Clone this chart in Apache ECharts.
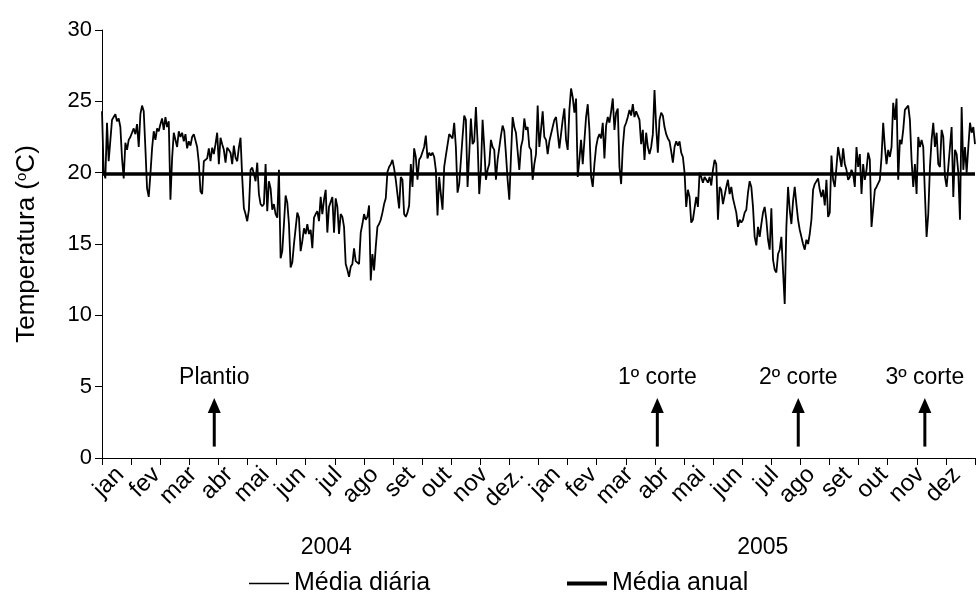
<!DOCTYPE html>
<html><head><meta charset="utf-8">
<script src="https://cdn.jsdelivr.net/npm/echarts@6/dist/echarts.min.js"></script>
<style>html,body{margin:0;padding:0;background:#fff}#c{width:979px;height:600px}</style>
</head><body><div id="c"></div>
<script>
// Month labels (bottom axis), year labels
const monthLabels = ['jan','fev','mar','abr','mai','jun','jul','ago','set','out','nov','dez.',
                     'jan','fev','mar','abr','mai','jun','jul','ago','set','out','nov','dez'];
const yearLabels = ['2004','2005'];
const yTicks = [0, 30, 5]; // min, max, step

// Daily mean temperature (ºC), sampled evenly along Jan 2004 – Dec 2005
const tempJanApr2004 = [24.3,20.1,19.6,23.5,20.8,20.8,23.7,23.9,24.1,23.6,23.8,23.2,21.0,19.6,22.1,21.6,22.3,22.5,22.4,23.1,
  22.7,23.4,21.8,24.1,24.7,24.3,21.7,18.9,18.3,19.9,21.7,22.9,22.3,23.1,22.9,23.4,23.8,23.0,23.9,23.2,
  23.6,18.1,21.0,22.8,22.7,21.8,22.9,22.5,22.8,22.2,22.7,21.7,22.2,21.9,22.5,22.7,22.8,21.8,20.7,18.7,
  18.5,20.8,20.8,21.0,21.7];
const tempAprJul2004 = [20.8,21.75,21.3,22.0,22.8,20.6,22.45,22.0,21.6,20.7,21.75,21.6,21.4,20.6,21.9,21.05,20.8,21.75,22.45,19.65,
  17.5,17.1,16.6,17.4,20.2,20.35,19.9,19.4,20.7,18.5,17.8,17.65,17.8,20.6,17.3,19.4,18.9,17.4,17.8,17.1,
  16.85,20.2,14.0,14.5,16.4,18.4,17.9,16.4,13.35,13.7,15.0,16.1,17.2,16.85,14.5,15.2,16.1,15.7,16.4,15.7,
  16.0,14.7,16.85,17.1,17.3,16.6];
const tempJulOct2004 = [18.3,17.1,18.1,18.8,15.8,17.6,17.5,18.3,15.8,18.2,17.6,15.7,17.1,16.9,16.2,13.6,13.2,12.7,13.4,13.6,
  14.7,13.8,13.8,13.6,15.8,16.4,17.1,16.7,16.9,17.7,12.45,14.3,13.15,14.8,16.2,16.4,16.7,17.2,17.8,18.2,
  20.05,20.4,20.6,20.9,20.3,19.5,18.5,17.5,19.7,19.5,17.1,16.9,17.2,17.7,20.6,19.0,21.7,21.1,19.5,20.9,
  21.1,21.2,21.8,22.6,21.0,21.4];
const tempOctDec2004 = [21.2,21.4,21.1,20.2,17.0,19.7,18.5,17.4,20.4,21.2,21.3,22.7,22.8,22.4,23.5,21.8,18.6,19.2,19.3,22.5,
  24.0,23.7,19.0,21.3,23.8,22.0,22.2,24.6,22.2,18.5,20.2,23.7,21.8,19.5,20.2,20.6,22.3,21.8,21.6,19.5,
  20.9,21.0,22.6,23.3,22.9,21.3,19.5,18.1,21.1,23.9,23.2,22.8,21.5,20.2,21.8,22.3,23.8,23.0,23.2,21.8,
  21.6,19.5,20.6,21.3,24.7,21.8];
const tempJanApr2005 = [23.0,24.3,22.5,22.3,21.3,22.2,22.3,23.2,23.7,23.9,24.0,21.7,21.6,23.7,24.5,22.3,21.6,24.4,25.9,25.3,
  24.2,25.2,19.7,20.9,22.3,20.6,20.6,23.9,24.8,23.0,19.7,19.0,20.6,21.8,22.4,22.7,22.4,23.5,21.0,23.3,
  23.9,23.5,24.3,25.2,23.0,24.2,24.5,20.4,19.2,21.8,23.2,23.5,23.9,24.4,24.0,24.8,23.9,24.3,24.2,23.7,
  22.0,23.0,20.9,22.8,21.8,21.3];
const tempAprJul2005 = [21.8,22.7,25.8,23.2,21.4,23.7,24.2,24.0,23.2,22.7,22.4,22.2,21.5,20.7,21.8,22.2,21.9,22.2,21.4,21.1,
  20.0,17.6,18.8,18.3,16.5,16.7,16.6,18.3,17.6,20.0,19.7,19.3,19.7,19.5,19.3,19.7,19.1,20.2,20.9,20.6,
  16.7,19.0,18.8,17.8,17.7,19.0,19.5,18.5,19.0,18.2,18.1,17.2,16.2,16.7,16.5,16.7,17.2,17.4,18.6,19.4,
  19.0,17.6,15.5,14.9,16.2,15.5];
const tempJulOct2005 = [16.4,17.2,17.6,16.7,15.3,14.6,17.5,13.9,13.2,13.0,14.3,14.6,15.5,15.4,10.8,16.2,19.0,17.4,16.4,18.0,
  19.0,17.8,16.7,16.0,15.5,15.0,14.6,15.3,15.0,15.7,16.7,18.8,19.2,19.3,19.6,18.8,18.3,18.8,17.7,19.5,
  16.9,17.2,21.2,19.5,19.0,20.4,21.8,21.9,20.4,21.7,20.6,20.2,19.5,19.7,20.2,19.9,19.0,21.8,20.4,21.3,
  18.5,20.6,19.5,20.2,21.4,20.9];
const tempOctDec2005 = [16.2,16.1,18.8,19.0,19.0,19.5,21.1,23.5,21.8,20.6,21.6,21.1,21.8,24.9,23.7,25.2,19.5,22.3,22.0,23.0,
  24.4,24.5,24.7,23.7,20.9,19.0,20.6,18.5,22.5,21.8,22.3,21.8,18.5,15.5,17.1,20.4,22.3,23.5,21.8,22.8,
  20.6,20.4,23.0,22.5,19.7,19.0,20.4,21.8,23.2,18.3,21.6,21.3,20.0,16.7,24.6,20.2,21.8,20.0,21.8,23.5,
  22.8,23.2,22.0];

const annualMean = 19.9;
const totalDays = 731;
// Events: day number counted from 1 Jan 2004
const eventNames = ['Plantio','1º corte','2º corte','3º corte'];
const eventDays = [94, 465, 583, 689];

const daily = [].concat(tempJanApr2004,tempAprJul2004,tempJulOct2004,tempOctDec2004,
                        tempJanApr2005,tempAprJul2005,tempJulOct2005,tempOctDec2005);

const TICKS = 30; // number of tick intervals on the time axis
const dailyPts = daily.map((v,i)=>[i*TICKS/(daily.length-1), v]);
const meanPts = [[0, annualMean],[TICKS, annualMean]];
const eventPts = eventDays.map((d,i)=>[d*TICKS/totalDays, eventNames[i]]);

const FONT = '"Liberation Sans", Arial, Helvetica, sans-serif';
const FS = 22;
const ARROW_FROM = 0.8, ARROW_TO = 4.2;

const chart = echarts.init(document.getElementById('c'), null, {renderer:'canvas'});
chart.setOption({
  animation:false,
  backgroundColor:'#fff',
  textStyle:{fontFamily:FONT, color:'#000'},
  grid:{left:102, right:4, top:30, bottom:142, containLabel:false},
  legend:[
    {data:['Média diária'], left:244, top:566, icon:'rect', itemWidth:40, itemHeight:1.5, itemGap:6,
     textStyle:{fontFamily:FONT, fontSize:25, color:'#000'}},
    {data:['Média anual'], left:562, top:566, icon:'rect', itemWidth:40, itemHeight:4, itemGap:6,
     textStyle:{fontFamily:FONT, fontSize:25, color:'#000'}}
  ],
  xAxis:[
    {type:'value', min:0, max:TICKS, interval:1, position:'bottom',
     axisLine:{show:true, onZero:false, lineStyle:{color:'#000', width:1}},
     axisTick:{show:true, inside:false, length:7, lineStyle:{color:'#000'}},
     axisLabel:{show:false}, splitLine:{show:false}},
    {type:'category', data:monthLabels, position:'bottom', boundaryGap:true,
     axisLine:{show:false}, axisTick:{show:false}, splitLine:{show:false},
     axisLabel:{interval:0, rotate:45, margin:13, fontSize:24, color:'#000', fontFamily:FONT}},
    {type:'category', data:yearLabels, position:'bottom', boundaryGap:true,
     axisLine:{show:false}, axisTick:{show:false}, splitLine:{show:false},
     axisLabel:{interval:0, margin:78, fontSize:23, color:'#000', fontFamily:FONT, padding:[0,0,0,12]}}
  ],
  yAxis:{type:'value', min:yTicks[0], max:yTicks[1], interval:yTicks[2],
    axisLine:{show:true, lineStyle:{color:'#000', width:1}},
    axisTick:{show:true, inside:false, length:7, lineStyle:{color:'#000'}},
    axisLabel:{fontSize:FS, color:'#000', margin:10, fontFamily:FONT},
    splitLine:{show:false},
    name:'{a|Temperatura (}{s|o}{a|C)}', nameLocation:'middle', nameGap:62, nameRotate:90,
    nameTextStyle:{rich:{a:{fontSize:26, fontFamily:FONT, color:'#000'},
                         s:{fontSize:15, fontFamily:FONT, color:'#000', verticalAlign:'top', padding:[0,0,10,0]}}}
  },
  series:[
    {name:'Média diária', type:'line', xAxisIndex:0, data:dailyPts, symbol:'none', smooth:false,
     lineStyle:{color:'#000', width:1.8}, itemStyle:{color:'#000'}, z:3},
    {name:'Média anual', type:'line', xAxisIndex:0, data:meanPts, symbol:'none',
     lineStyle:{color:'#000', width:3.5}, itemStyle:{color:'#000'}, z:4},
    {type:'custom', xAxisIndex:0, yAxisIndex:0, data:eventPts, z:5,
     renderItem:function(params, api){
       const x = api.value(0);
       const label = eventNames[params.dataIndex];
       const p0 = api.coord([x, ARROW_FROM]);
       const p1 = api.coord([x, ARROW_TO]);
       const head = 15, hw = 6.5;
       return {type:'group', children:[
         {type:'line', shape:{x1:p0[0], y1:p0[1], x2:p1[0], y2:p1[1]+head-1},
          style:{stroke:'#000', lineWidth:3}},
         {type:'polygon', shape:{points:[[p1[0],p1[1]],[p1[0]-hw,p1[1]+head],[p1[0]+hw,p1[1]+head]]},
          style:{fill:'#000'}},
         {type:'text', x:p1[0], y:p1[1]-9,
          style:{text:label, font:'23px '+FONT, fill:'#000', align:'center', verticalAlign:'bottom'}}
       ]};
     }}
  ]
});
</script></body></html>
